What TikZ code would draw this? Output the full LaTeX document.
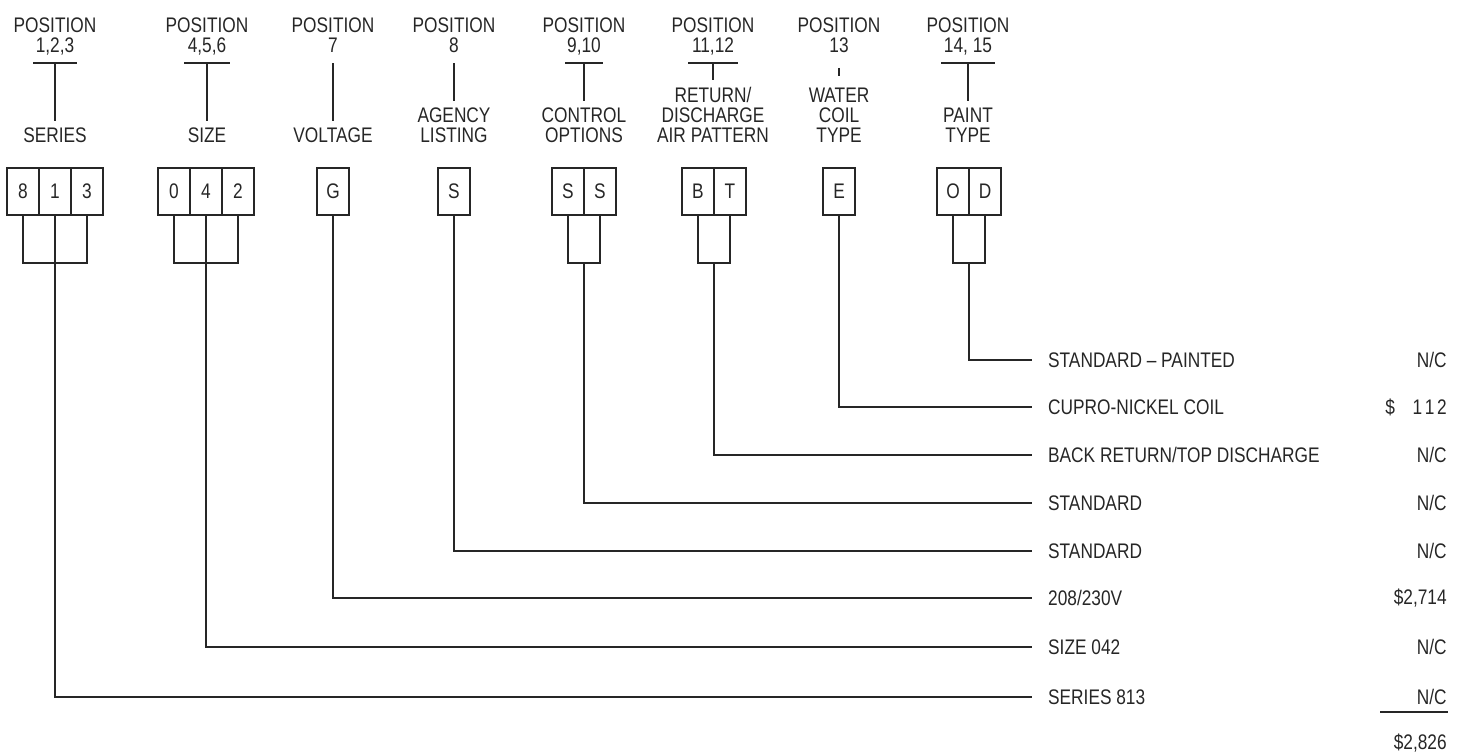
\documentclass[tikz,border=0pt]{standalone}
\usepackage{fontspec}
\setmainfont{Liberation Sans}[FakeStretch=0.82]
\usetikzlibrary{positioning}

\begin{document}
\begin{tikzpicture}[
    x=0.02cm, y=-0.02cm,
    ink/.style={line width=1pt, draw=black!85},
    head/.style={anchor=south, align=center, font=\fontsize{12}{11.3}\selectfont, text depth=2pt, inner xsep=1pt, inner ysep=4pt, text=black!85},
    desc/.style={anchor=south, align=center, font=\fontsize{12}{11.3}\selectfont, text depth=0pt, inner sep=4pt, text=black!85},
    cell/.style={ink, minimum width=0.64cm, minimum height=0.94cm, inner sep=0pt, outer sep=0pt, font=\fontsize{12}{12}\selectfont, text=black!85},
    opt/.style={anchor=west, inner xsep=9pt, font=\fontsize{12}{12}\selectfont, text=black!85},
    price/.style={anchor=east, inner sep=0pt, font=\fontsize{12}{12}\selectfont, text=black!85}
]
    \useasboundingbox (0,0) rectangle (1462,752);

    % Position headings
    \node[head] (h-ser) at (55,63) {POSITION\\1,2,3};
    \node[head] (h-size) at (207,63) {POSITION\\4,5,6};
    \node[head] (h-volt) at (333,63) {POSITION\\7};
    \node[head] (h-agcy) at (454,63) {POSITION\\8};
    \node[head] (h-ctl) at (584,63) {POSITION\\9,10};
    \node[head] (h-air) at (713,63) {POSITION\\11,12};
    \node[head] (h-coil) at (839,63) {POSITION\\13};
    \node[head] (h-paint) at (968,63) {POSITION\\14, 15};

    % Descriptions
    \node[desc] (d-ser) at (55,150) {SERIES};
    \node[desc] (d-size) at (207,150) {SIZE};
    \node[desc] (d-volt) at (333,150) {VOLTAGE};
    \node[desc] (d-agcy) at (454,150) {AGENCY\\LISTING};
    \node[desc] (d-ctl) at (584,150) {CONTROL\\OPTIONS};
    \node[desc] (d-air) at (713,150) {RETURN/\\DISCHARGE\\AIR PATTERN};
    \node[desc] (d-coil) at (839,150) {WATER\\COIL\\TYPE};
    \node[desc] (d-paint) at (968,150) {PAINT\\TYPE};

    % T bars
    \draw[ink] (h-ser.south) ++(-22,0) -- ++(44,0);
    \draw[ink] (h-size.south) ++(-23,0) -- ++(46,0);
    \draw[ink] (h-ctl.south) ++(-19,0) -- ++(38,0);
    \draw[ink] (h-air.south) ++(-25,0) -- ++(50,0);
    \draw[ink] (h-paint.south) ++(-27,0) -- ++(54,0);
    \draw[ink] (h-ser) -- (d-ser);
    \draw[ink] (h-size) -- (d-size);
    \draw[ink] (h-volt) -- (d-volt);
    \draw[ink] (h-agcy) -- (d-agcy);
    \draw[ink] (h-ctl) -- (d-ctl);
    \draw[ink] (h-air) -- (d-air);
    \draw[ink, shorten <=2.8pt, shorten >=2.8pt] (h-coil) -- (d-coil);
    \draw[ink] (h-paint) -- (d-paint);

    % Code boxes
    \node[cell] (ser1) at (23,191.5) {8};
    \node[cell, right=0pt of ser1] (ser2) {1};
    \node[cell, right=0pt of ser2] (ser3) {3};
    \node[cell] (size1) at (174,191.5) {0};
    \node[cell, right=0pt of size1] (size2) {4};
    \node[cell, right=0pt of size2] (size3) {2};
    \node[cell] (volt) at (333,191.5) {G};
    \node[cell] (agcy) at (454,191.5) {S};
    \node[cell] (ctl1) at (568,191.5) {S};
    \node[cell, right=0pt of ctl1] (ctl2) {S};
    \node[cell] (air1) at (698,191.5) {B};
    \node[cell, right=0pt of air1] (air2) {T};
    \node[cell] (coil) at (839,191.5) {E};
    \node[cell] (paint1) at (953,191.5) {O};
    \node[cell, right=0pt of paint1] (paint2) {D};

    % Options
    \node[opt] (o-paint) at (1032,360) {STANDARD -- PAINTED};
    \node[opt] (o-coil) at (1032,407) {CUPRO-NICKEL COIL};
    \node[opt] (o-air) at (1032,455) {BACK RETURN/TOP DISCHARGE};
    \node[opt] (o-ctl) at (1032,503) {STANDARD};
    \node[opt] (o-agcy) at (1032,551) {STANDARD};
    \node[opt] (o-volt) at (1032,598) {208/230V};
    \node[opt] (o-size) at (1032,647) {SIZE 042};
    \node[opt] (o-ser) at (1032,697) {SERIES 813};

    % Prices
    \node[price] (p-paint) at (1447,360) {N/C};
    \node[price] (p-coil) at (1447,407) {\$\hspace{10pt}1\kern1.5pt1\kern1.5pt2};
    \node[price] (p-air) at (1447,455) {N/C};
    \node[price] (p-ctl) at (1447,503) {N/C};
    \node[price] (p-agcy) at (1447,551) {N/C};
    \node[price] (p-volt) at (1447,598) {\$2,714};
    \node[price] (p-size) at (1447,647) {N/C};
    \node[price] (p-ser) at (1447,697) {N/C};
    \node[price] (p-total) at (1447,743) {\$2,826};
    \draw[ink] (1380,712) -- (1448,712);

    % Leaders
    \coordinate (j-ser) at ([yshift=-0.96cm]ser2.south);
    \draw[ink] (ser1.south) |- (j-ser) -| (ser3.south);
    \draw[ink] (ser2.south) |- (o-ser.west);
    \coordinate (j-size) at ([yshift=-0.96cm]size2.south);
    \draw[ink] (size1.south) |- (j-size) -| (size3.south);
    \draw[ink] (size2.south) |- (o-size.west);
    \draw[ink] (volt.south) |- (o-volt.west);
    \draw[ink] (agcy.south) |- (o-agcy.west);
    \coordinate (j-ctl) at ([yshift=-0.96cm]ctl1.south east);
    \draw[ink] (ctl1.south) |- (j-ctl) -| (ctl2.south);
    \draw[ink] (j-ctl) |- (o-ctl.west);
    \coordinate (j-air) at ([yshift=-0.96cm]air1.south east);
    \draw[ink] (air1.south) |- (j-air) -| (air2.south);
    \draw[ink] (j-air) |- (o-air.west);
    \draw[ink] (coil.south) |- (o-coil.west);
    \coordinate (j-paint) at ([yshift=-0.96cm]paint1.south east);
    \draw[ink] (paint1.south) |- (j-paint) -| (paint2.south);
    \draw[ink] (j-paint) |- (o-paint.west);
\end{tikzpicture}
\end{document}
